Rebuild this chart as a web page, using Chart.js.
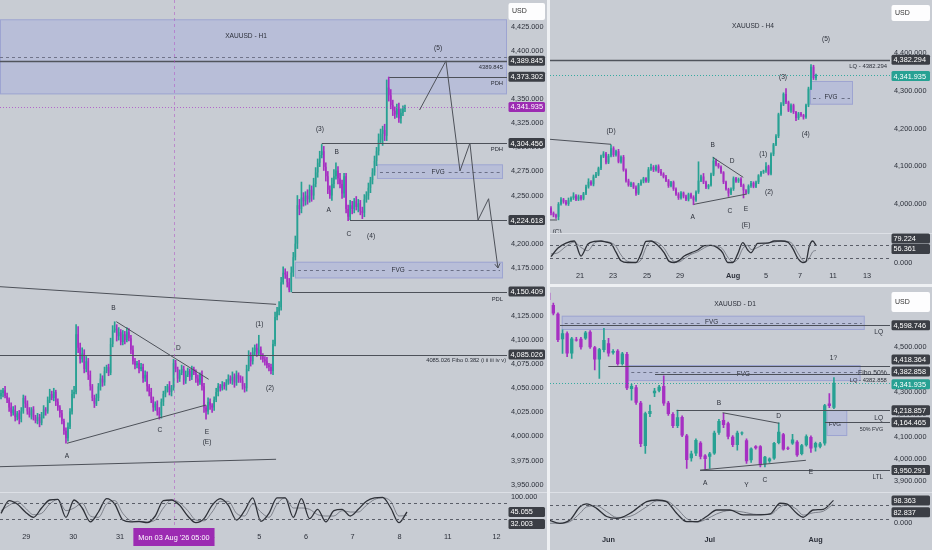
<!DOCTYPE html>
<html>
<head>
<meta charset="utf-8">
<title>XAUUSD H1 / H4 / D1</title>
<script src="https://cdn.jsdelivr.net/npm/chart.js@4.4.1/dist/chart.umd.min.js"></script>
<style>
  html, body { margin: 0; padding: 0; background: #eef0f3; }
  #wrap { position: relative; width: 932px; height: 550px; overflow: hidden; background: #eef0f3; }
  .pane { position: absolute; background: #c8ccd3; }
</style>
</head>
<body>
<div id="wrap">
  <div class="pane" style="left:0;top:0;width:547px;height:550px"><canvas id="h1"></canvas></div>
  <div class="pane" style="left:550px;top:0;width:382px;height:284px"><canvas id="h4"></canvas></div>
  <div class="pane" style="left:550px;top:287px;width:382px;height:263px"><canvas id="d1"></canvas></div>
</div>
<script>
// ---------- H1 data (open = previous close) ----------
const h1Open0 = 4042;
const h1Close = [
  4045,4048,4042,4038,4030,4024,4028,4020,4024,4018,
  4026,4040,4034,4026,4022,4028,4020,4016,4020,4014,
  4022,4028,4026,4038,4044,4040,4046,4036,4030,4024,
  4016,4006,3998,4010,4026,4044,4046,4106,4092,4080,
  4086,4070,4078,4064,4052,4040,4034,4040,4052,4060,
  4056,4068,4072,4066,4096,4110,4112,4104,4108,4098,
  4106,4100,4108,4102,4090,4078,4074,4076,4070,4072,
  4060,4064,4052,4046,4038,4030,4034,4026,4022,4036,
  4044,4048,4052,4046,4050,4076,4070,4060,4066,4070,
  4058,4064,4068,4062,4070,4066,4060,4056,4064,4052,
  4030,4026,4036,4032,4030,4038,4046,4052,4050,4054,
  4052,4056,4060,4058,4062,4056,4064,4060,4058,4052,
  4050,4070,4084,4078,4088,4092,4086,4090,4084,4080,
  4078,4074,4072,4068,4096,4124,4130,4134,4160,4170,
  4168,4160,4152,4170,4186,4200,4240,4236,4248,4244,
  4250,4246,4256,4250,4262,4274,4284,4292,4296,4280,
  4270,4256,4250,4262,4270,4276,4268,4262,4252,4270,
  4236,4228,4240,4236,4244,4238,4242,4234,4232,4246,
  4250,4258,4266,4274,4286,4296,4308,4314,4318,4312,
  4362,4354,4344,4338,4334,4340,4330,4336,4340,4341.935
];
const h1WickUp = [
  3,2,4,3,2,5,3,4,2,3, 4,3,2,3,4,2,3,2,4,3, 3,4,2,3,5,3,4,2,3,2, 3,2,3,4,3,4,6,10,8,5,
  6,4,5,3,4,2,3,4,3,5, 3,4,2,3,6,5,7,4,5,3, 4,3,5,4,3,4,3,2,3,4, 3,4,3,2,4,3,2,3,4,3,
  3,4,2,5,3,4,3,2,3,4, 3,4,3,2,3,2,3,4,2,4, 3,2,4,3,2,3,4,3,2,3, 2,3,4,3,5,3,4,2,3,4,
  3,4,5,3,4,3,4,15,3,2, 3,4,2,3,4,5,4,6,5,6, 4,3,4,6,5,8,10,6,16,5, 4,6,5,4,6,5,4,4,7,5,
  4,5,4,6,7,8,4,5,4,3, 3,4,5,4,3,5,4,3,4,5, 4,5,3,4,5,4,6,5,4,6, 8,11,6,5,4,5,6,4,3,2
];
const h1WickDn = [
  3,4,2,3,4,3,2,4,3,5, 3,2,4,3,2,4,3,2,3,4, 2,3,4,2,3,2,3,4,3,4, 3,4,5,3,2,3,4,2,5,4,
  3,4,3,5,4,3,4,2,3,4, 4,3,2,3,2,3,2,5,4,3, 3,4,2,3,4,3,4,3,4,2, 4,3,5,4,3,4,3,4,4,3,
  4,3,2,3,4,2,3,4,3,2, 4,3,2,4,3,2,4,3,2,4, 5,8,3,4,5,3,2,4,3,2, 3,4,2,3,4,5,3,4,2,3,
  4,3,2,5,3,4,3,2,4,3, 4,3,4,3,4,2,3,4,3,2, 4,5,2,2,4,3,5,6,4,5, 4,5,3,6,4,3,5,4,3,4,
  5,4,3,5,4,3,6,4,5,4, 4,4,3,5,4,3,5,4,6,4, 3,4,5,4,3,5,4,3,12,5, 5,6,4,5,4,3,4,5,3,3
];
// stoch RSI, one reading every 4 candles
const h1StochK = [40,88,75,45,25,60,90,92,25,90,60,8,45,95,75,15,8,10,5,30,88,90,70,30,5,20,70,95,70,15,50,98,10,40,98,98,25,95,20,55,8,50,55,30,55,85,98,100,60,5,45.055];
const h1StochD = [50,70,85,60,35,40,75,92,50,60,78,30,25,75,88,40,12,8,8,15,60,90,80,50,15,12,45,85,85,40,30,75,45,25,75,98,60,60,55,35,30,30,50,45,45,70,92,98,85,30,32.003];
const h1Days = ['29','30','31','3','4','5','6','7','8','11','12'];
const h1PriceTicks = [3950,3975,4000,4025,4050,4075,4100,4125,4150,4175,4200,4225,4250,4275,4300,4325,4350,4375,4400,4425];

// ---------- H4 data ----------
const h4Open0 = 3989;
const h4Close = [
  3976,3970,3966,4000,4012,4006,4000,4010,4016,4022,
  4012,4020,4014,4028,4046,4059,4052,4073,4078,4095,
  4126,4134,4110,4128,4148,4130,4140,4112,4125,4090,
  4062,4050,4055,4044,4028,4052,4060,4068,4060,4092,
  4098,4090,4100,4086,4080,4072,4062,4048,4058,4040,
  4026,4016,4030,4020,4012,4026,4018,4010,4032,4062,
  4073,4058,4044,4050,4078,4115,4105,4098,4084,4058,
  4040,4028,4040,4068,4060,4066,4050,4036,4030,4048,
  4056,4046,4058,4076,4084,4088,4100,4080,4132,4158,
  4180,4238,4264,4292,4270,4248,4262,4244,4228,4240,
  4236,4230,4262,4306,4364,4334,4341.935
];
const h4WickUp = [
  4,3,3,4,5,3,4,6,3,8, 3,4,3,3,4,8,3,4,6,3, 4,5,3,4,9,4,3,5,3,4, 3,4,3,2,4,3,4,3,2,5,
  8,4,3,4,6,3,4,3,2,3, 3,4,3,2,4,3,3,4,3,50, 4,8,3,2,4,9,4,3,3,2, 3,2,3,4,3,3,4,3,2,3,
  4,3,3,2,3,2,10,3,4,3, 4,3,5,3,14,3,4,3,2,3, 3,2,3,4,6,4,3
];
const h4WickDn = [
  5,4,4,8,3,4,3,4,3,4, 3,3,4,3,3,4,3,4,3,3, 4,3,4,3,3,4,3,3,4,3, 4,3,4,3,5,3,3,4,3,3,
  3,4,3,3,4,3,3,4,3,4, 3,4,3,4,3,4,3,12,3,4, 3,4,3,4,3,3,4,3,3,4, 3,8,3,4,3,3,4,20,3,3,
  4,3,3,4,3,3,4,3,3,4, 3,4,3,3,4,3,5,4,7,4, 4,5,3,4,3,4,5
];
const h4StochAt = [0,2.7,6,9.3,12,14.7,17.3,20,22,24,26,28,30.7,34,36,38,40,42.7,45.3,47.3,49.3,51.3,53.3,56,58.7,61.3,64,66.7,68.7,70.7,72.7,74.7,76.7,78.7,80,82.7,86.7,89.3,92,94.7,96.7,98.7,100.7,102,103.3,104.7,106];
const h4StochK = [27,66,90,100,30,85,98,100,95,88,48,8,0,0,40,98,100,80,45,5,0,10,30,45,58,78,80,68,45,0,0,40,92,58,45,89,90,100,100,95,66,20,0,5,75,100,79.224];
const h4StochD = [40,45,75,95,70,55,90,98,98,92,75,35,5,0,12,70,98,92,65,28,5,3,18,38,50,68,80,75,62,25,3,15,65,80,60,70,92,95,100,98,85,45,10,3,20,50,56.361];
const h4Days = ['21','23','25','29','Aug','5','7','11','13'];
const h4PriceTicks = [4000,4100,4200,4300,4400,4500];

// ---------- D1 data ----------
const d1Open = [
  4745,4690,4650,4536,4563,4473,4535,4538,4540,4570,
  4500,4446,4488,4518,4476,4485,4426,4470,4314,4321,
  4252,4058,4202,4294,4306,4327,4252,4202,4148,4188,
  4105,4003,4025,4073,4016,4010,4025,4118,4175,4160,
  4100,4063,4114,4084,3995,4057,4057,3977,3990,4002,
  4072,4111,4050,4069,4077,4022,4062,4099,4051,4055,
  4069,4249,4229
];
const d1High = [
  4757,4698,4655,4578,4570,4545,4545,4545,4572,4575,
  4505,4496,4585,4540,4490,4490,4478,4478,4335,4330,
  4258,4210,4242,4317,4330,4372,4258,4208,4219,4193,
  4110,4035,4090,4078,4020,4030,4125,4178,4205,4165,
  4105,4125,4122,4090,4050,4060,4060,4012,4005,4075,
  4162,4115,4055,4111,4082,4066,4108,4104,4076,4075,
  4245,4293,4365
];
const d1Low = [
  4700,4645,4525,4473,4458,4450,4528,4492,4535,4495,
  4399,4361,4480,4460,4470,4420,4420,4310,4264,4245,
  4055,4025,4190,4279,4300,4240,4195,4140,4140,4100,
  3958,3990,4015,4000,3950.291,3958,4020,4110,4140,4090,
  4055,4040,4108,3980,3985,4044,3965,3965,3985,3998,
  4068,4040,4042,4065,4012,4018,4058,4030,4035,4050,
  4062,4230,4225
];
const d1Close = [
  4712,4652,4533,4563,4473,4540,4531,4500,4566,4500,
  4446,4491,4533,4473,4484,4426,4473,4317,4327,4252,
  4067,4205,4215,4306,4324,4249,4202,4148,4187,4105,
  3996,4025,4085,4010,4000,4025,4118,4170,4152,4100,
  4063,4118,4117,3990,4047,4048,3972,4010,4002,4072,
  4122,4043,4046,4087,4017,4062,4102,4047,4072,4070,
  4241,4237,4341.935
];
const d1StochAt = [0,2.4,4.6,6.8,8.2,10.4,12.6,14.8,17.7,21.3,23.5,25.6,27.8,30,32.2,34.3,36.5,39.4,42.3,45.2,48.1,50.3,51.7,53.9,55.3,57.5,59.7,61.9];
const d1StochK = [14,0,14,71,83,64,29,21,43,93,100,93,43,7,7,29,57,57,36,36,40,86,83,43,26,57,60,98.363];
const d1StochD = [0,0,7,43,70,75,50,25,30,71,96,95,65,20,5,18,40,55,48,38,38,70,80,60,35,45,52,82.837];
const d1Months = ['Jun','Jul','Aug'];
const d1PriceTicks = [3900,4000,4100,4200,4300,4400,4500,4600,4700];

// ---------- styles ----------
const TEAL = '#27a193', MAG = '#a62fc2', MAGTAG = '#9c2bb2', DARK = '#3b3e45';
const TXT = '#2c303a', LINE = '#4d5159', MID = '#6a6f86';
const ZONE = 'rgba(150,160,230,0.30)', ZONE_EDGE = 'rgba(125,132,200,0.45)';
const FAM = '"Liberation Sans", Arial, sans-serif';
Chart.defaults.font.family = FAM;
const font = (size, bold) => (bold ? 'bold ' : '') + size + 'px ' + FAM;
const fmt3 = v => Number(v).toLocaleString('en-US', {minimumFractionDigits: 3, maximumFractionDigits: 3});

function fromCloses(open0, close, up, dn) {
  const o = [], h = [], l = [];
  close.forEach((c, i) => {
    const op = i ? close[i - 1] : open0;
    o.push(op);
    h.push(Math.max(op, c) + up[i]);
    l.push(Math.min(op, c) - dn[i]);
  });
  return {o, h, l, c: close};
}

const SPECS = {
  h1: {
    bars: fromCloses(h1Open0, h1Close, h1WickUp, h1WickDn),
    k: h1StochK, d: h1StochD, oscAt: h1StochK.map((v, i) => i * 4),
    xMin: -0.49, xMax: 249.26, pMin: 3942.34, pMax: 4452.93, oMin: -15, oMax: 120,
    pTicks: h1PriceTicks, oTicks: [100],
    mainH: 492, oscH: 36, xH: 22, yW: 40, xPad: 5, usd: [3, 17],
    timeAt: [12.5, 35.6, 58.6, 81.5, 104.2, 127.2, 150.2, 173.2, 196.3, 220.1, 244.1],
    timeLabels: h1Days, timeBold: [],
    tags: [{p: 4389.845}, {p: 4373.302}, {p: 4341.935, bg: MAGTAG}, {p: 4304.456}, {p: 4224.618},
           {p: 4150.409}, {p: 4085.026}, {o: 45.055}, {o: 32.003, dy: 8.5}],
    xtag: {x: 85.2, s: "Mon 03 Aug '26 05:00", bg: MAGTAG},
    ann: [
      {t: 'box', layer: 'under', p0: 4432.9, p1: 4355},
      {t: 'box', layer: 'under', x0: 185.2, x1: 247.3, p0: 4282.4, p1: 4267.2, mid: 4274.4, label: 'FVG', lx: 215.3},
      {t: 'box', layer: 'under', x0: 144.8, x1: 247.3, p0: 4181.3, p1: 4164, mid: 4172.7, label: 'FVG', lx: 195.6},
      {t: 'h', p: 4393.5, dash: [3, 3], c: '#70748a'},
      {t: 'h', p: 4389.845, w: 1.4, c: '#50545c'},
      {t: 'h', p: 4373.302, x0: 191.3},
      {t: 'h', p: 4304.456, x0: 158},
      {t: 'h', p: 4224.618, x0: 171.9},
      {t: 'h', p: 4150.409, x0: 143.3},
      {t: 'h', p: 4085.026, w: 1.2},
      {t: 'h', p: 4341.935, dash: [1, 2], c: 'rgba(172,70,200,0.75)'},
      {t: 'path', pts: [[-0.49, 4155.4], [135.5, 4137.1]]},
      {t: 'path', pts: [[-0.49, 3968.6], [135.5, 3976.3]]},
      {t: 'path', pts: [[32.5, 3992.9], [101, 4032.6]]},
      {t: 'path', pts: [[56.8, 4119.1], [102.3, 4059.3]]},
      {t: 'path', arrow: true, pts: [[206.2, 4338.8], [219.2, 4389.8], [226.1, 4275.5], [231, 4304.5], [235, 4224.6], [240.2, 4246.7], [244.8, 4174.8]]},
      {t: 'v', pane: 'all', x: 85.2, c: 'rgba(176,84,196,0.55)', dash: [3, 3]},
      {t: 'txt', x: 120.7, p: 4415.6, s: 'XAUUSD - H1'},
      {t: 'txt', x: 215.3, p: 4403.4, s: '(5)'},
      {t: 'txt', x: 157.1, p: 4319, s: '(3)'},
      {t: 'txt', x: 165.4, p: 4295.5, s: 'B'},
      {t: 'txt', x: 161.4, p: 4235, s: 'A'},
      {t: 'txt', x: 171.4, p: 4210, s: 'C'},
      {t: 'txt', x: 182.3, p: 4208.3, s: '(4)'},
      {t: 'txt', x: 55.4, p: 4133.3, s: 'B'},
      {t: 'txt', x: 87.4, p: 4091.8, s: 'D'},
      {t: 'txt', x: 78.3, p: 4006.7, s: 'C'},
      {t: 'txt', x: 101.5, p: 4004.9, s: 'E'},
      {t: 'txt', x: 101.5, p: 3994.5, s: '(E)'},
      {t: 'txt', x: 32.5, p: 3980, s: 'A'},
      {t: 'txt', x: 127.3, p: 4116.7, s: '(1)'},
      {t: 'txt', x: 132.5, p: 4050.3, s: '(2)'},
      {t: 'txt', x: 247.3, p: 4383, s: '4389.845', al: 'right', size: 5.8},
      {t: 'txt', x: 247.3, p: 4366.8, s: 'PDH', al: 'right', size: 5.8},
      {t: 'txt', x: 247.3, p: 4298.3, s: 'PDH', al: 'right', size: 5.8},
      {t: 'txt', x: 247.3, p: 4142.6, s: 'PDL', al: 'right', size: 5.8},
      {t: 'txt', x: 248.8, p: 4078.6, s: '4085.026 Fibo 0.382 (i ii iii iv v)', al: 'right', size: 5.8},
      {t: 'h', pane: 'o', p: 80, dash: [3, 3], c: '#5a5e68'},
      {t: 'h', pane: 'o', p: 20, dash: [3, 3], c: '#5a5e68'}
    ]
  },
  h4: {
    bars: fromCloses(h4Open0, h4Close, h4WickUp, h4WickDn),
    k: h4StochK, d: h4StochD, oscAt: h4StochAt,
    xMin: -0.4, xMax: 135.6, pMin: 3923.1, pMax: 4541.1, oMin: -16.3, oMax: 137.2,
    pTicks: h4PriceTicks, oTicks: [0],
    mainH: 233, oscH: 33, xH: 18, yW: 42, xPad: 5.5, usd: [5, 16],
    timeAt: [11.6, 24.8, 38.4, 51.6, 72.8, 86, 99.6, 112.8, 126.4],
    timeLabels: h4Days, timeBold: [false, false, false, false, true],
    tags: [{p: 4382.294}, {p: 4341.935, bg: TEAL, dy: 1}, {o: 79.224, dy: -7}, {o: 56.361, dy: -1.5}],
    ann: [
      {t: 'box', layer: 'under', x0: 103.6, x1: 120.8, p0: 4326.3, p1: 4263.4, mid: 4282, label: 'FVG', lx: 112},
      {t: 'h', p: 4382.294, w: 1.5, c: '#50545c'},
      {t: 'h', p: 4341.935, dash: [1, 2], c: 'rgba(38,166,154,0.9)'},
      {t: 'path', pts: [[-0.4, 4171.6], [24, 4158.4]]},
      {t: 'path', pts: [[-0.4, 3957.6], [2.4, 3957.6]]},
      {t: 'path', pts: [[57.2, 3999.2], [78.3, 4026.5]]},
      {t: 'path', pts: [[64.7, 4123.9], [76.9, 4070.8]]},
      {t: 'txt', x: 80.8, p: 4473, s: 'XAUUSD - H4'},
      {t: 'txt', x: 110, p: 4437.7, s: '(5)'},
      {t: 'txt', x: 92.8, p: 4336.9, s: '(3)'},
      {t: 'txt', x: 101.9, p: 4184.9, s: '(4)'},
      {t: 'txt', x: 24, p: 4193.6, s: '(D)'},
      {t: 'txt', x: 84.9, p: 4132.6, s: '(1)'},
      {t: 'txt', x: 87.2, p: 4031.8, s: '(2)'},
      {t: 'txt', x: 64.7, p: 4156.5, s: 'B'},
      {t: 'txt', x: 72.5, p: 4114, s: 'D'},
      {t: 'txt', x: 56.7, p: 3965.5, s: 'A'},
      {t: 'txt', x: 71.6, p: 3981.4, s: 'C'},
      {t: 'txt', x: 78, p: 3986.7, s: 'E'},
      {t: 'txt', x: 78, p: 3944.3, s: '(E)'},
      {t: 'txt', x: 2.4, p: 3925.7, s: '(C)'},
      {t: 'txt', x: 134.4, p: 4364.2, s: 'LQ - 4382.294', al: 'right', size: 5.9},
      {t: 'h', pane: 'o', p: 80, dash: [3, 3], c: '#5a5e68'},
      {t: 'h', pane: 'o', p: 20, dash: [3, 3], c: '#5a5e68'}
    ]
  },
  d1: {
    bars: {o: d1Open, h: d1High, l: d1Low, c: d1Close},
    k: d1StochK, d: d1StochD, oscAt: d1StochAt,
    xMin: 0.276, xMax: 74.19, pMin: 3853.6, pMax: 4770.3, oMin: -28.8, oMax: 135.6,
    pTicks: d1PriceTicks, oTicks: [0],
    mainH: 204.7, oscH: 38.3, xH: 20, yW: 42, xPad: 5.5, usd: [5, 20],
    timeAt: [13, 35, 58],
    timeLabels: d1Months, timeBold: [true, true, true],
    tags: [{p: 4598.746}, {p: 4418.364, dy: -6}, {p: 4382.858, dy: -2}, {p: 4341.935, bg: TEAL, dy: 1.7},
           {p: 4218.857}, {p: 4164.465}, {p: 3950.291}, {o: 98.363}, {o: 82.837, dy: 8.3}],
    ann: [
      {t: 'box', layer: 'under', x0: 2.82, x1: 68.7, p0: 4641.7, p1: 4577.7, mid: 4610.4, label: 'FVG', lx: 35.4},
      {t: 'box', layer: 'under', x0: 17.3, x1: 67.8, p0: 4421, p1: 4349, mid: 4391, label: 'FVG', lx: 42.3, lp: 4380.6},
      {t: 'box', layer: 'under', x0: 60.4, x1: 64.9, p0: 4219, p1: 4103},
      {t: 'h', p: 4598.746, x0: 2.45},
      {t: 'h', p: 4418.364, x0: 12.95},
      {t: 'h', p: 4382.858, x0: 23.1},
      {t: 'h', p: 4341.935, dash: [1, 2], c: 'rgba(38,166,154,0.9)'},
      {t: 'h', p: 4218.857, x0: 27.8},
      {t: 'h', p: 4164.465, x0: 60.05},
      {t: 'h', p: 3950.291, x0: 32.9},
      {t: 'path', pts: [[32.9, 3950.3], [55.9, 3994.2]]},
      {t: 'path', pts: [[37.8, 4207.3], [50.1, 4159.9]]},
      {t: 'txt', x: 40.5, p: 4694, s: 'XAUUSD - D1'},
      {t: 'txt', x: 62.2, p: 4156.7, s: 'FVG', size: 6},
      {t: 'txt', x: 61.9, p: 4451, s: '1?'},
      {t: 'txt', x: 37, p: 4252, s: 'B'},
      {t: 'txt', x: 50, p: 4192.6, s: 'D'},
      {t: 'txt', x: 34, p: 3893.9, s: 'A'},
      {t: 'txt', x: 43, p: 3883.6, s: 'Y'},
      {t: 'txt', x: 47, p: 3906, s: 'C'},
      {t: 'txt', x: 57, p: 3940.4, s: 'E'},
      {t: 'txt', x: 72.7, p: 4567.4, s: 'LQ', al: 'right', size: 6.6},
      {t: 'txt', x: 73.5, p: 4383.8, s: 'Fibo 50%', al: 'right', size: 6.8},
      {t: 'txt', x: 73.5, p: 4353.8, s: 'LQ - 4382.858', al: 'right', size: 5.8},
      {t: 'txt', x: 72.7, p: 4185, s: 'LQ', al: 'right', size: 6.6},
      {t: 'txt', x: 72.7, p: 4134.3, s: '50% FVG', al: 'right', size: 5.4},
      {t: 'txt', x: 72.7, p: 3918, s: 'LTL', al: 'right', size: 6.4},
      {t: 'h', pane: 'o', p: 80, dash: [3, 3], c: '#5a5e68'},
      {t: 'h', pane: 'o', p: 20, dash: [3, 3], c: '#5a5e68'}
    ]
  }
};

function clipPane(chart, pane) {
  const {ctx, chartArea: ca, scales: s} = chart;
  let t = s.y.top, b = s.y.bottom;
  if (pane === 'o') { t = s.yo.top; b = s.yo.bottom; }
  if (pane === 'all') { t = ca.top; b = ca.bottom; }
  ctx.beginPath();
  ctx.rect(ca.left, t, ca.right - ca.left, b - t);
  ctx.clip();
}

function drawItems(chart, layer) {
  const spec = SPECS[chart.canvas.id];
  const {ctx, chartArea: ca, scales: s} = chart;
  const X = v => s.x.getPixelForValue(v);
  spec.ann.forEach(a => {
    if ((a.layer || 'over') !== layer) return;
    const sc = a.pane === 'o' ? s.yo : s.y;
    const Y = v => sc.getPixelForValue(v);
    ctx.save();
    clipPane(chart, a.pane);
    ctx.strokeStyle = a.c || LINE;
    ctx.lineWidth = a.w || 1;
    ctx.setLineDash(a.dash || []);
    if (a.t === 'h') {
      const y = Math.round(Y(a.p)) + 0.5;
      ctx.beginPath();
      ctx.moveTo(a.x0 == null ? ca.left : X(a.x0), y);
      ctx.lineTo(a.x1 == null ? ca.right : X(a.x1), y);
      ctx.stroke();
    } else if (a.t === 'v') {
      const x = Math.round(X(a.x)) + 0.5;
      ctx.beginPath(); ctx.moveTo(x, ca.top); ctx.lineTo(x, ca.bottom); ctx.stroke();
    } else if (a.t === 'path') {
      ctx.beginPath();
      a.pts.forEach((q, i) => (i ? ctx.lineTo(X(q[0]), Y(q[1])) : ctx.moveTo(X(q[0]), Y(q[1]))));
      ctx.stroke();
      if (a.arrow) {
        const n = a.pts.length, e = a.pts[n - 1], f = a.pts[n - 2];
        const ex = X(e[0]), ey = Y(e[1]);
        const ang = Math.atan2(ey - Y(f[1]), ex - X(f[0]));
        ctx.beginPath();
        [-0.55, 0.55].forEach(dd => {
          ctx.moveTo(ex, ey);
          ctx.lineTo(ex - 5 * Math.cos(ang + dd), ey - 5 * Math.sin(ang + dd));
        });
        ctx.stroke();
      }
    } else if (a.t === 'box') {
      const x0 = a.x0 == null ? ca.left : X(a.x0), x1 = a.x1 == null ? ca.right : X(a.x1);
      const y0 = Y(a.p0), y1 = Y(a.p1);
      ctx.fillStyle = ZONE;
      ctx.fillRect(x0, y0, x1 - x0, y1 - y0);
      ctx.strokeStyle = ZONE_EDGE;
      ctx.strokeRect(x0 + 0.5, y0 + 0.5, x1 - x0 - 1, y1 - y0 - 1);
      if (a.label) {
        ctx.font = font(a.size || 6.4);
        const lx = X(a.lx), ly = Y(a.lp != null ? a.lp : a.mid);
        const half = ctx.measureText(a.label).width / 2 + 4;
        if (a.mid != null) {
          const ym = Math.round(Y(a.mid)) + 0.5;
          ctx.strokeStyle = MID; ctx.setLineDash([3, 3]);
          ctx.beginPath();
          ctx.moveTo(x0 + 3, ym); ctx.lineTo(lx - half, ym);
          ctx.moveTo(lx + half, ym); ctx.lineTo(x1 - 3, ym);
          ctx.stroke();
        }
        ctx.fillStyle = TXT; ctx.textAlign = 'center'; ctx.textBaseline = 'middle';
        ctx.fillText(a.label, lx, ly);
      }
    } else if (a.t === 'txt') {
      ctx.font = font(a.size || 6.6, a.bold);
      ctx.fillStyle = a.c || TXT;
      ctx.textAlign = a.al || 'center';
      ctx.textBaseline = 'middle';
      ctx.fillText(a.s, X(a.x), Y(a.p));
    }
    ctx.restore();
  });
}

function rrect(ctx, x, y, w, h, r) {
  ctx.beginPath();
  if (ctx.roundRect) ctx.roundRect(x, y, w, h, r); else ctx.rect(x, y, w, h);
}

function drawAxisBits(chart) {
  const spec = SPECS[chart.canvas.id];
  const {ctx, chartArea: ca, scales: s} = chart;
  ctx.save();
  // pane separator
  const ys = Math.round(s.yo.top) + 0.5;
  ctx.strokeStyle = '#dde0e6'; ctx.lineWidth = 1;
  ctx.beginPath(); ctx.moveTo(0, ys); ctx.lineTo(chart.width, ys); ctx.stroke();
  // price tags
  ctx.font = font(7.3); ctx.textBaseline = 'middle'; ctx.textAlign = 'left';
  spec.tags.forEach(t => {
    const isOsc = t.o != null;
    const y = (isOsc ? s.yo.getPixelForValue(t.o) : s.y.getPixelForValue(t.p)) + (t.dy || 0);
    ctx.fillStyle = t.bg || DARK;
    rrect(ctx, ca.right + 1.5, y - 5, spec.yW - 3.5, 10, 1.5); ctx.fill();
    ctx.fillStyle = '#fff';
    ctx.fillText(isOsc ? t.o.toFixed(3) : fmt3(t.p), ca.right + 3.5, y + 0.5);
  });
  // currency box
  ctx.fillStyle = '#fdfdfe';
  rrect(ctx, ca.right + 1.5, spec.usd[0], spec.yW - 3.5, spec.usd[1], 2); ctx.fill();
  ctx.fillStyle = '#333'; ctx.font = font(7);
  ctx.fillText('USD', ca.right + 5, spec.usd[0] + spec.usd[1] / 2);
  // crosshair time label
  if (spec.xtag) {
    ctx.font = font(7.3);
    const w = ctx.measureText(spec.xtag.s).width + 10, cx = s.x.getPixelForValue(spec.xtag.x);
    ctx.fillStyle = spec.xtag.bg;
    ctx.fillRect(cx - w / 2, ca.bottom, w, 18);
    ctx.fillStyle = '#fff'; ctx.textAlign = 'center';
    ctx.fillText(spec.xtag.s, cx, ca.bottom + 9.5);
  }
  ctx.restore();
}

const annPlugin = {
  id: 'ann',
  beforeDatasetsDraw(chart) { drawItems(chart, 'under'); },
  afterDatasetsDraw(chart) { drawItems(chart, 'over'); },
  afterDraw(chart) { drawAxisBits(chart); }
};

function makeChart(id) {
  const spec = SPECS[id], b = spec.bars;
  const body = [], wick = [], col = [];
  b.c.forEach((c, i) => {
    body.push({x: i, y: [b.o[i], c]});
    wick.push({x: i, y: [b.l[i], b.h[i]]});
    col.push(c >= b.o[i] ? TEAL : MAG);
  });
  const osc = (vals, color, w) => ({
    type: 'line', yAxisID: 'yo', order: 1,
    data: vals.map((v, i) => ({x: spec.oscAt[i], y: v})),
    borderColor: color, borderWidth: w, pointRadius: 0, cubicInterpolationMode: 'monotone'
  });
  const noGrid = {display: false, drawTicks: false};
  return new Chart(document.getElementById(id), {
    type: 'bar',
    data: {
      datasets: [
        osc(spec.k, '#2e3138', 1.3),
        osc(spec.d, '#6b6f78', 0.8),
        {data: body, backgroundColor: col, yAxisID: 'y', grouped: false, categoryPercentage: 1,
         barPercentage: 0.72, minBarLength: 1, order: 2, clip: 0},
        {data: wick, backgroundColor: col, yAxisID: 'y', grouped: false, barThickness: 1, order: 3, clip: 0}
      ]
    },
    options: {
      responsive: true, maintainAspectRatio: false, animation: false, events: [],
      layout: {padding: 0, autoPadding: false},
      plugins: {legend: {display: false}, tooltip: {enabled: false}},
      scales: {
        x: {
          type: 'linear', min: spec.xMin, max: spec.xMax, offset: false,
          grid: noGrid, border: {display: false},
          afterBuildTicks: sc => { sc.ticks = spec.timeAt.map(v => ({value: v})); },
          afterFit: sc => { sc.height = spec.xH; sc.paddingLeft = 0; sc.paddingRight = 0; },
          ticks: {
            autoSkip: false, maxRotation: 0, padding: spec.xPad, color: TXT,
            font: c => ({size: 7.3, weight: spec.timeBold[c.index] ? 'bold' : 'normal'}),
            callback: (v, i) => spec.timeLabels[i]
          }
        },
        y: {
          type: 'linear', position: 'right', stack: 'pane', stackWeight: spec.mainH,
          min: spec.pMin, max: spec.pMax, grid: noGrid, border: {display: false},
          afterBuildTicks: sc => { sc.ticks = spec.pTicks.map(v => ({value: v})); },
          afterFit: sc => { sc.width = spec.yW; sc.paddingTop = 0; sc.paddingBottom = 0; },
          ticks: {autoSkip: false, padding: 4, color: TXT, font: {size: 7.3}, callback: v => fmt3(v)}
        },
        yo: {
          type: 'linear', position: 'right', stack: 'pane', stackWeight: spec.oscH,
          min: spec.oMin, max: spec.oMax, grid: noGrid, border: {display: false},
          afterBuildTicks: sc => { sc.ticks = spec.oTicks.map(v => ({value: v})); },
          afterFit: sc => { sc.width = spec.yW; sc.paddingTop = 0; sc.paddingBottom = 0; },
          ticks: {autoSkip: false, padding: 4, color: TXT, font: {size: 7.3}, callback: v => Number(v).toFixed(3)}
        }
      }
    },
    plugins: [annPlugin]
  });
}

makeChart('h1');
makeChart('h4');
makeChart('d1');
</script>
</body>
</html>
